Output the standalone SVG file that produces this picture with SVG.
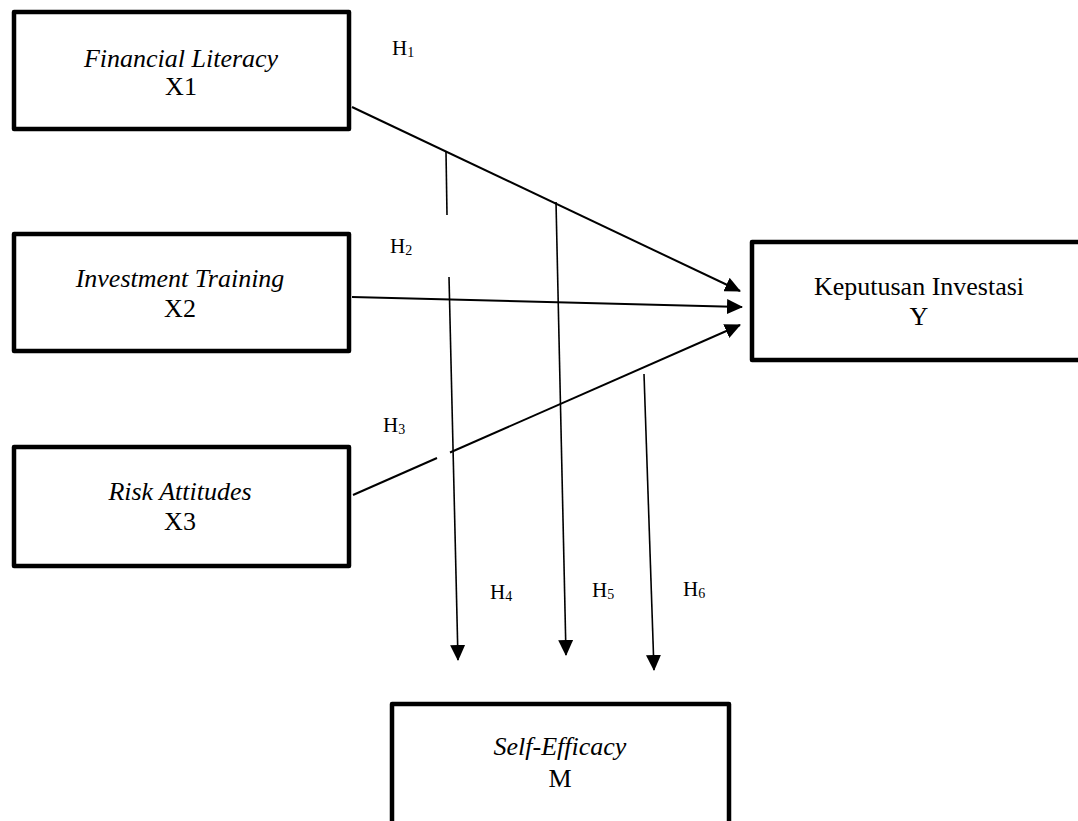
<svg xmlns="http://www.w3.org/2000/svg" width="1078" height="821" viewBox="0 0 1078 821">
<style>
.box{fill:#fff;stroke:#000;stroke-width:4.5;stroke-linejoin:round}
.t{font-family:"Liberation Serif","Times New Roman",serif;font-size:26px;fill:#000;text-anchor:middle}
.i{font-style:italic}
.h{font-family:"Liberation Serif","Times New Roman",serif;font-size:21px;fill:#000}
.sub{font-size:14px}
.c{fill:none;stroke:#000;stroke-width:2}
.v{fill:none;stroke:#000;stroke-width:1.6}
</style>
<defs>
<marker id="arr" markerUnits="userSpaceOnUse" markerWidth="16" markerHeight="15" refX="15" refY="7.5" orient="auto">
<path d="M0,0 L16,7.5 L0,15 z" fill="#000"/>
</marker>
</defs>
<rect width="1078" height="821" fill="#fff"/>
<g id="connectors">
<path class="c" d="M352,107 L740,291" marker-end="url(#arr)"/>
<path class="c" d="M352,297 L742,307" marker-end="url(#arr)"/>
<path class="c" d="M353,495 L437,458"/>
<path class="c" d="M450,452.5 L740,325" marker-end="url(#arr)"/>
<path class="v" d="M446,152 L447,215"/>
<path class="v" d="M449,277 L458,660" marker-end="url(#arr)"/>
<path class="v" d="M556,202 L566,655" marker-end="url(#arr)"/>
<path class="v" d="M644,374 L654,670" marker-end="url(#arr)"/>
</g>
<g id="labels">
<text class="h" x="392" y="55">H<tspan class="sub" dy="2">1</tspan></text>
<text class="h" x="390" y="253">H<tspan class="sub" dy="2">2</tspan></text>
<text class="h" x="383" y="432">H<tspan class="sub" dy="2">3</tspan></text>
<text class="h" x="490" y="599">H<tspan class="sub" dy="2">4</tspan></text>
<text class="h" x="592" y="597">H<tspan class="sub" dy="2">5</tspan></text>
<text class="h" x="683" y="596">H<tspan class="sub" dy="2">6</tspan></text>
</g>
<g id="X1">
<rect class="box" x="14" y="12" width="335" height="117"/>
<text class="t i" x="181" y="67">Financial Literacy</text>
<text class="t" x="181" y="95">X1</text>
</g>
<g id="X2">
<rect class="box" x="14" y="234" width="335" height="117"/>
<text class="t i" x="180" y="287">Investment Training</text>
<text class="t" x="180" y="317">X2</text>
</g>
<g id="X3">
<rect class="box" x="14" y="447" width="335" height="119"/>
<text class="t i" x="180" y="500">Risk Attitudes</text>
<text class="t" x="180" y="530">X3</text>
</g>
<g id="Y">
<rect class="box" x="752" y="242" width="340" height="118"/>
<text class="t" x="919" y="295">Keputusan Investasi</text>
<text class="t" x="919" y="325">Y</text>
</g>
<g id="M">
<rect class="box" x="392" y="704" width="337" height="130"/>
<text class="t i" x="560" y="755">Self-Efficacy</text>
<text class="t" x="560" y="787">M</text>
</g>
</svg>
